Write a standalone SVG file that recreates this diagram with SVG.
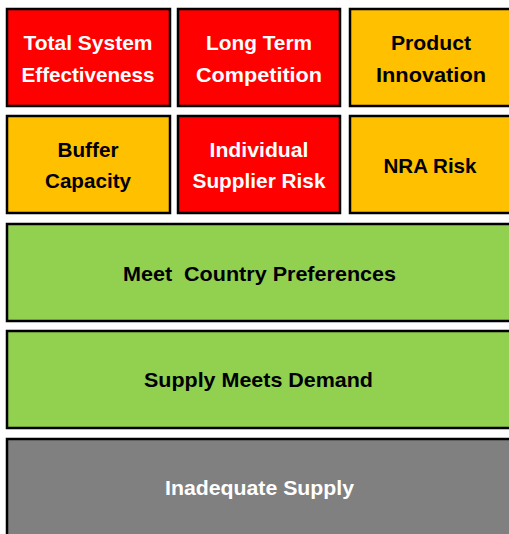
<svg xmlns="http://www.w3.org/2000/svg" width="509" height="534" viewBox="0 0 509 534">
<style>
rect{stroke:#000;stroke-width:2.5}
.r{fill:#FF0000}.o{fill:#FFC000}.g{fill:#92D050}.k{fill:#808080}
text{font-family:"Liberation Sans",Arial,sans-serif;font-weight:bold;font-size:21px;text-anchor:middle}
.w{fill:#fff}.b{fill:#000}
</style>
<rect width="509" height="534" fill="#fff" style="stroke:none"/>
<g id="total-system-effectiveness">
<rect class="r" x="7" y="9" width="163" height="97"/>
<text class="w" x="88" y="50" textLength="129" lengthAdjust="spacingAndGlyphs">Total System</text>
<text class="w" x="88" y="82" textLength="133" lengthAdjust="spacingAndGlyphs">Effectiveness</text>
</g>
<g id="long-term-competition">
<rect class="r" x="178" y="9" width="162" height="97"/>
<text class="w" x="259" y="50" textLength="106" lengthAdjust="spacingAndGlyphs">Long Term</text>
<text class="w" x="259" y="82" textLength="126" lengthAdjust="spacingAndGlyphs">Competition</text>
</g>
<g id="product-innovation">
<rect class="o" x="350" y="9" width="162" height="97"/>
<text class="b" x="431" y="50" textLength="80" lengthAdjust="spacingAndGlyphs">Product</text>
<text class="b" x="431" y="82" textLength="110" lengthAdjust="spacingAndGlyphs">Innovation</text>
</g>
<g id="buffer-capacity">
<rect class="o" x="7" y="116" width="163" height="97"/>
<text class="b" x="88" y="157" textLength="61" lengthAdjust="spacingAndGlyphs">Buffer</text>
<text class="b" x="88" y="188" textLength="86" lengthAdjust="spacingAndGlyphs">Capacity</text>
</g>
<g id="individual-supplier-risk">
<rect class="r" x="178" y="116" width="162" height="97"/>
<text class="w" x="259" y="157" textLength="99" lengthAdjust="spacingAndGlyphs">Individual</text>
<text class="w" x="259" y="188" textLength="133" lengthAdjust="spacingAndGlyphs">Supplier Risk</text>
</g>
<g id="nra-risk">
<rect class="o" x="350" y="116" width="162" height="97"/>
<text class="b" x="430" y="173" textLength="93" lengthAdjust="spacingAndGlyphs">NRA Risk</text>
</g>
<g id="meet-country-preferences">
<rect class="g" x="7" y="224" width="504" height="97"/>
<text class="b" x="259.5" y="281" textLength="273" lengthAdjust="spacingAndGlyphs" xml:space="preserve">Meet  Country Preferences</text>
</g>
<g id="supply-meets-demand">
<rect class="g" x="7" y="331" width="504" height="97"/>
<text class="b" x="258.5" y="387" textLength="229" lengthAdjust="spacingAndGlyphs">Supply Meets Demand</text>
</g>
<g id="inadequate-supply">
<rect class="k" x="7" y="439" width="504" height="97"/>
<text class="w" x="259.5" y="495" textLength="189" lengthAdjust="spacingAndGlyphs">Inadequate Supply</text>
</g>
<g id="connectors"></g>
</svg>
